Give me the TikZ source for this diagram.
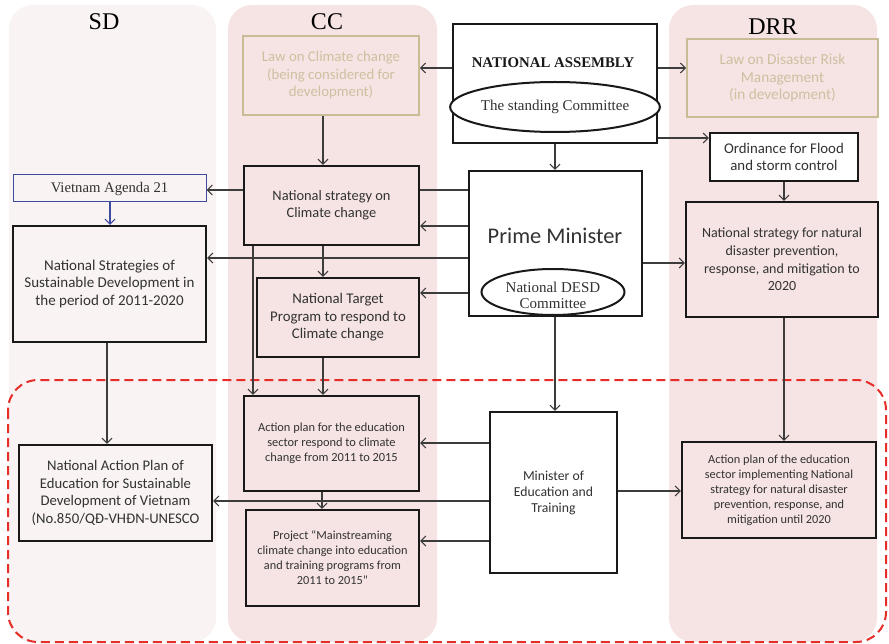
\documentclass[tikz,border=0pt]{standalone}
\usepackage{fontspec}
\setmainfont{Carlito}
\newfontfamily\timesf{Liberation Serif}
\usetikzlibrary{arrows.meta,shapes.geometric}
\pgfdeclarelayer{cols}
\pgfdeclarelayer{links}
\pgfsetlayers{cols,links,main}
\definecolor{sdcol}{RGB}{249,243,243}
\definecolor{cccol}{RGB}{246,228,228}
\definecolor{txt}{RGB}{50,50,50}
\definecolor{boxline}{RGB}{25,25,25}
\definecolor{lawline}{RGB}{200,188,150}
\definecolor{lawtxt}{RGB}{205,192,160}
\definecolor{agblue}{RGB}{60,75,160}
\definecolor{linkcol}{RGB}{60,60,60}
\definecolor{dashred}{RGB}{230,45,40}
\newcommand{\fs}[2]{\fontsize{#1}{#2}\selectfont}
\tikzset{
  column/.style={rounded corners=24pt, draw=none},
  coltitle/.style={font=\timesf\fs{24}{26}, text=black},
  box/.style={draw=boxline, line width=2.2pt, text=txt, align=center, inner sep=2pt},
  lawbox/.style={draw=lawline, line width=1.6pt, text=lawtxt, align=center, inner sep=2pt},
  oval/.style={ellipse, draw=boxline, line width=2pt, fill=white, text=txt, inner sep=0pt},
  link/.style={draw=linkcol, line width=1.1pt, -{Straight Barb[length=5pt,width=10pt,line width=1.1pt]}},
  plainlink/.style={draw=linkcol, line width=1.1pt},
}
\begin{document}
\begin{tikzpicture}[x=1pt,y=-1pt]
\useasboundingbox (0,0) rectangle (889,644);

% three thematic columns
\begin{pgfonlayer}{cols}
  \fill[column, fill=sdcol] (9,5) rectangle (216,642);
  \fill[column, fill=cccol] (228,5) rectangle (437,642);
  \fill[column, fill=cccol] (669,5) rectangle (877,642);
\end{pgfonlayer}
\node[coltitle] (tsd) at (104,22) {SD};
\node[coltitle] (tcc) at (327,22) {CC};
\node[coltitle] (tdrr) at (773,27) {DRR};

% legislative level
\node[lawbox, fill=cccol, minimum width=176pt, minimum height=79pt, font=\fs{14.8}{17.5}] (lawcc) at (331,75.5)
  {Law on Climate change\\(being considered for\\development)};
\node[box, fill=white, minimum width=204pt, minimum height=119pt] (na) at (555,83.5) {};
\node[font=\timesf\bfseries\fs{14.8}{16}, text=boxline] (natxt) at (553,63) {NATIONAL ASSEMBLY};
\node[oval, minimum width=195pt, minimum height=50pt, font=\timesf\fs{15}{16}] (stand) at (555,107) {The standing Committee};
\node[lawbox, fill=cccol, minimum width=191pt, minimum height=78pt, font=\fs{15.3}{17.5}] (lawdrr) at (782.5,78)
  {Law on Disaster Risk\\Management\\(in development)};
\node[box, fill=white, minimum width=148pt, minimum height=48pt, font=\fs{14.8}{17}] (ord) at (784,157)
  {Ordinance for Flood\\and storm control};

% strategy level
\node[box, fill=cccol, minimum width=175pt, minimum height=79pt, font=\fs{14.4}{17}] (nscc) at (331.5,205.5)
  {National strategy on\\Climate change};
\node[draw=agblue, line width=1pt, fill=sdcol, minimum width=193pt, minimum height=27pt, font=\timesf\fs{14.7}{16}, text=txt] (va21) at (109.5,188.5)
  {Vietnam Agenda 21};
\node[box, fill=sdcol, minimum width=193pt, minimum height=116pt, font=\fs{15}{17.7}] (nssd) at (109.5,284)
  {National Strategies of\\Sustainable Development in\\the period of 2011-2020};
\node[box, fill=cccol, minimum width=162pt, minimum height=79pt, font=\fs{14.8}{17.5}] (ntp) at (338,317.5)
  {National Target\\Program to respond to\\Climate change};
\node[box, fill=white, minimum width=173pt, minimum height=145pt] (pm) at (555.5,243.5) {};
\node[font=\fs{22.4}{24}, text=txt] (pmtxt) at (555,236) {Prime Minister};
\node[oval, minimum width=143pt, minimum height=46pt] (desd) at (553,292) {};
\node[font=\timesf\fs{15}{16}, text=txt, align=center] (desdtxt) at (553,295)
  {National DESD\\Committee};
\node[box, fill=cccol, minimum width=192pt, minimum height=115pt, font=\fs{14}{17.7}] (nsdrr) at (782,259.5)
  {National strategy for natural\\disaster prevention,\\response, and mitigation to\\2020};

% education sector level
\node[box, fill=cccol, minimum width=175pt, minimum height=95pt, font=\fs{12.4}{15}] (apcc) at (331.5,443.5)
  {Action plan for the education\\sector respond to climate\\change from 2011 to 2015};
\node[box, fill=cccol, minimum width=173pt, minimum height=96pt, font=\fs{12.3}{15}] (proj) at (332.5,558)
  {Project “Mainstreaming\\climate change into education\\and training programs from\\2011 to 2015”};
\node[box, fill=sdcol, minimum width=193pt, minimum height=96pt, font=\fs{14.7}{17.5}] (nap) at (115.5,493)
  {National Action Plan of\\Education for Sustainable\\Development of Vietnam\\(No.850/QĐ-VHĐN-UNESCO};
\node[box, fill=white, minimum width=127pt, minimum height=161pt, font=\fs{13.7}{16}] (moet) at (553.5,492.5)
  {Minister of\\Education and\\Training};
\node[box, fill=cccol, minimum width=194pt, minimum height=96pt, font=\fs{12.3}{15}] (apdrr) at (779,490)
  {Action plan of the education\\sector implementing National\\strategy for natural disaster\\prevention, response, and\\mitigation until 2020};

\begin{pgfonlayer}{links}
  % education sector frame
  \draw[dashred, line width=2pt, dash pattern=on 9pt off 5pt, rounded corners=30pt] (8,380) rectangle (886,642);

  \draw[link] (na.west |- 0,68) -- (lawcc.east |- 0,68);
  \draw[link] (na.east |- 0,68) -- (lawdrr.west |- 0,68);
  \draw[link] (na.east |- 0,138) -- (ord.west |- 0,138);
  \draw[link] (na.south -| 555,0) -- (pm.north -| 555,0);
  \draw[link] (lawcc.south -| 323,0) -- (nscc.north -| 323,0);
  \draw[link] (ord.south) -- (ord.south |- nsdrr.north);

  \draw[plainlink] (pm.west |- 0,190) -- (nscc.east |- 0,190);
  \draw[link] (nscc.west |- 0,190) -- (va21.east |- 0,190);
  \draw[link, draw=agblue] (va21.south -| 110,0) -- (nssd.north -| 110,0);
  \draw[link] (pm.west |- 0,226) -- (nscc.east |- 0,226);
  \draw[link] (pm.west |- 0,258) -- (nssd.east |- 0,258);
  \draw[link] (pm.west |- 0,293) -- (ntp.east |- 0,293);
  \draw[link] (pm.east |- 0,263) -- (nsdrr.west |- 0,263);
  \draw[link] (nscc.south -| 323,0) -- (ntp.north -| 323,0);
  \draw[link] (nscc.south -| 253,0) -- (apcc.north -| 253,0);
  \draw[link] (ntp.south -| 323,0) -- (apcc.north -| 323,0);
  \draw[link] (pm.south -| 555,0) -- (moet.north -| 555,0);
  \draw[link] (nsdrr.south -| 784,0) -- (apdrr.north -| 784,0);
  \draw[link] (nssd.south -| 107,0) -- (nap.north -| 107,0);

  \draw[link] (moet.west |- 0,443) -- (apcc.east |- 0,443);
  \draw[link] (moet.west |- 0,501) -- (nap.east |- 0,501);
  \draw[link] (apcc.south -| 322,0) -- (proj.north -| 322,0);
  \draw[link] (moet.west |- 0,541) -- (proj.east |- 0,541);
  \draw[link] (moet.east |- 0,491) -- (apdrr.west |- 0,491);
\end{pgfonlayer}
\end{tikzpicture}
\end{document}
